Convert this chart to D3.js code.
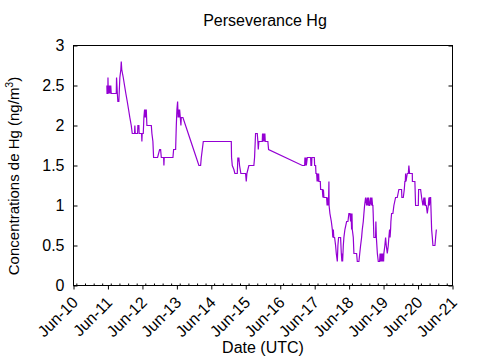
<!DOCTYPE html>
<html><head><meta charset="utf-8">
<script src="https://cdn.jsdelivr.net/npm/d3@7"></script>
<style>body{margin:0;background:#fff}svg text{font-family:"Liberation Sans",Arial,sans-serif;fill:#000}</style>
</head><body><svg id="c" width="480" height="360"></svg>
<script>
// decimal-year time stamps and Hg concentrations (ng/m3)
const years = [2011.383,2011.388,2011.412,2011.415,2011.423,2011.438,2011.449,2011.467,2011.478,2011.496,2011.510,2011.656,2011.664,2011.687,2011.702,2011.731,2011.760,2011.789,2011.801,2011.815,2011.859,2011.896,2011.934,2011.975,2012.013,2012.050,2012.091,2012.120,2012.187,2012.195,2012.207,2012.274,2012.283,2012.312,2012.320,2012.390,2012.399,2012.407,2012.439,2012.457,2012.477,2012.486,2012.497,2012.515,2012.526,2012.544,2012.672,2012.689,2012.718,2012.738,2012.854,2012.912,2012.941,2012.962,2013.029,2013.037,2013.046,2013.299,2013.319,2013.377,2013.397,2013.415,2013.435,2013.450,2013.464,2013.479,2013.493,2013.513,2013.531,2013.542,2013.589,2013.821,2014.053,2014.103,2014.123,2014.152,2014.181,2014.994,2015.002,2015.023,2015.069,2015.098,2015.168,2015.177,2015.185,2015.206,2015.214,2015.234,2015.272,2015.409,2015.429,2015.447,2015.476,2015.505,2015.650,2015.670,2015.699,2015.749,2015.766,2015.778,2015.795,2015.894,2015.902,2015.911,2015.923,2015.931,2015.940,2015.952,2015.969,2015.981,2016.056,2016.077,2017.055,2017.122,2017.130,2017.142,2017.159,2017.171,2017.200,2017.296,2017.304,2017.325,2017.333,2017.403,2017.412,2017.441,2017.450,2017.470,2017.484,2017.499,2017.513,2017.528,2017.537,2017.577,2017.586,2017.635,2017.653,2017.667,2017.682,2017.760,2017.774,2017.789,2017.803,2017.818,2017.827,2017.832,2017.856,2017.897,2017.926,2017.940,2017.955,2017.969,2017.992,2018.021,2018.041,2018.071,2018.088,2018.108,2018.166,2018.187,2018.204,2018.216,2018.225,2018.245,2018.262,2018.291,2018.341,2018.379,2018.407,2018.436,2018.457,2018.471,2018.486,2018.497,2018.506,2018.535,2018.553,2018.631,2018.651,2018.698,2018.747,2018.776,2018.796,2018.825,2018.843,2018.863,2018.892,2018.921,2018.941,2018.958,2018.979,2018.993,2019.008,2019.037,2019.057,2019.075,2019.095,2019.104,2019.113,2019.133,2019.182,2019.191,2019.205,2019.234,2019.261,2019.299,2019.313,2019.328,2019.342,2019.357,2019.377,2019.391,2019.406,2019.415,2019.423,2019.452,2019.473,2019.493,2019.522,2019.551,2019.568,2019.589,2019.603,2019.618,2019.627,2019.647,2019.685,2019.714,2019.763,2019.812,2019.859,2019.937,2019.946,2019.987,2020.016,2020.033,2020.045,2020.054,2020.065,2020.103,2020.132,2020.149,2020.169,2020.248,2020.251,2020.323,2020.343,2020.422,2020.431,2020.489,2020.518,2020.555,2020.584,2020.599,2020.613,2020.634,2020.654,2020.683,2020.712,2020.730,2020.744,2020.759,2020.779,2020.808,2020.828,2020.846,2020.904,2020.924,2020.945];
const hg = [2.5,2.4,2.4,2.6,2.4,2.5,2.4,2.5,2.4,2.5,2.4,2.4,2.6,2.4,2.3,2.3,2.6,2.7,2.8,2.7,2.6,2.5,2.4,2.3,2.2,2.1,2.0,1.9,1.9,2.0,1.9,1.9,2.0,2.0,1.9,1.9,1.8,1.9,1.9,2.1,2.2,2.1,2.2,2.1,2.2,2.0,2.0,1.9,1.8,1.6,1.6,1.7,1.7,1.6,1.6,1.5,1.6,1.6,1.7,1.7,2.0,2.2,2.3,2.1,2.2,2.1,2.2,2.1,2.0,2.1,2.1,1.8,1.5,1.5,1.6,1.7,1.8,1.8,1.6,1.5,1.45,1.4,1.4,1.5,1.6,1.55,1.6,1.5,1.4,1.4,1.3,1.4,1.45,1.5,1.5,1.6,1.9,1.9,1.8,1.7,1.8,1.8,1.9,1.8,1.9,1.8,1.9,1.8,1.9,1.8,1.8,1.7,1.5,1.5,1.6,1.5,1.6,1.5,1.6,1.6,1.5,1.5,1.6,1.6,1.5,1.5,1.4,1.4,1.3,1.4,1.3,1.4,1.3,1.3,1.2,1.2,1.1,1.2,1.1,1.1,1.0,1.1,1.0,1.1,1.3,1.0,0.9,0.8,0.7,0.6,0.7,0.6,0.6,0.5,0.4,0.3,0.5,0.6,0.6,0.4,0.3,0.4,0.3,0.5,0.6,0.7,0.8,0.8,0.9,0.9,0.8,0.9,0.7,0.9,0.7,0.6,0.4,0.4,0.3,0.3,0.5,0.6,0.7,0.8,0.9,1.0,1.1,1.0,1.1,1.0,1.1,1.0,1.0,1.1,1.0,1.1,1.0,1.0,0.9,0.6,0.6,0.8,0.6,0.4,0.3,0.3,0.4,0.3,0.4,0.3,0.4,0.3,0.4,0.3,0.4,0.5,0.6,0.5,0.4,0.5,0.6,0.7,0.6,0.7,0.8,0.9,0.9,1.0,1.1,1.1,1.2,1.2,1.1,1.1,1.2,1.3,1.3,1.4,1.3,1.4,1.4,1.5,1.4,1.4,1.3,1.3,1.0,1.0,1.2,1.2,1.1,1.0,1.1,1.0,1.1,1.0,1.0,0.9,1.0,1.1,1.0,1.1,1.1,0.7,0.6,0.5,0.5,0.6,0.7];
const xTickLabels = ["Jun-10","Jun-11","Jun-12","Jun-13","Jun-14","Jun-15","Jun-16","Jun-17","Jun-18","Jun-19","Jun-20","Jun-21"];
const yTicks = [0,0.5,1,1.5,2,2.5,3];
const yTickLabels = ["0","0.5","1","1.5","2","2.5","3"];
const titleText = "Perseverance Hg";
const xTitle = "Date (UTC)";

function yearToDate(t){
  const y = Math.floor(t);
  const s = Date.UTC(y,0,1), e = Date.UTC(y+1,0,1);
  return new Date(s + (t - y) * (e - s));
}
const data = years.map((t,i)=>({date: yearToDate(t), v: hg[i]}));

const L = 73.5, R = 452.5, T = 45.5, B = 285.5;
const svg = d3.select("#c");
const x = d3.scaleUtc().domain([new Date(Date.UTC(2010,5,1)), new Date(Date.UTC(2021,5,1))]).range([L, R]);
const y = d3.scaleLinear().domain([0,3]).range([B, T]);

const majorDates = xTickLabels.map((_,i)=>new Date(Date.UTC(2010+i,5,1)));
const minorDates = d3.utcMonth.every(3).range(new Date(Date.UTC(2010,5,1)), new Date(Date.UTC(2021,5,2))).filter(d=>d.getUTCMonth()!==5);

svg.append("g").attr("transform",`translate(${L},0)`)
  .call(d3.axisLeft(y).tickValues(yTicks).tickSizeInner(-4).tickSizeOuter(0).tickPadding(9).tickFormat((d,i)=>yTickLabels[i]))
  .call(g=>{g.select(".domain").remove(); g.selectAll("text").attr("font-size",16).attr("font-family","Liberation Sans, Arial, sans-serif");});
svg.append("g").attr("transform",`translate(${R},0)`)
  .call(d3.axisRight(y).tickValues(yTicks).tickSizeInner(-4).tickSizeOuter(0).tickFormat(""))
  .call(g=>g.select(".domain").remove());
const xb = svg.append("g").attr("transform",`translate(0,${B})`)
  .call(d3.axisBottom(x).tickValues(majorDates).tickSizeInner(4).tickSizeOuter(0).tickFormat((d,i)=>xTickLabels[i]))
  .call(g=>g.select(".domain").remove());
xb.selectAll("text")
  .attr("font-size",16).attr("font-family","Liberation Sans, Arial, sans-serif")
  .attr("text-anchor","end").attr("y",0).attr("dy","0.35em")
  .attr("transform","translate(1,14) rotate(-45)");
svg.append("g").attr("transform",`translate(0,${B})`)
  .call(d3.axisBottom(x).tickValues(minorDates).tickSizeInner(-2).tickSizeOuter(0).tickFormat(""))
  .call(g=>g.select(".domain").remove());

svg.append("rect").attr("x",L).attr("y",T).attr("width",R-L).attr("height",B-T)
  .attr("fill","none").attr("stroke","#000").attr("stroke-width",1);

svg.append("path").datum(data)
  .attr("fill","none").attr("stroke","#9400d3").attr("stroke-width",1.2)
  .attr("d", d3.line().x(d=>x(d.date)).y(d=>y(d.v)));

svg.append("text").attr("x",(L+R)/2+2).attr("y",26).attr("text-anchor","middle").attr("font-size",16).text(titleText);
svg.append("text").attr("x",(L+R)/2).attr("y",353).attr("text-anchor","middle").attr("font-size",16).text(xTitle);
const yl = svg.append("text").attr("transform","translate(19,176) rotate(-90)").attr("text-anchor","middle").attr("font-size",15);
yl.append("tspan").text("Concentrations de Hg (ng/m");
yl.append("tspan").attr("font-size",10.5).attr("dy",-6).text("3");
yl.append("tspan").attr("dy",6).text(")");
</script></body></html>
